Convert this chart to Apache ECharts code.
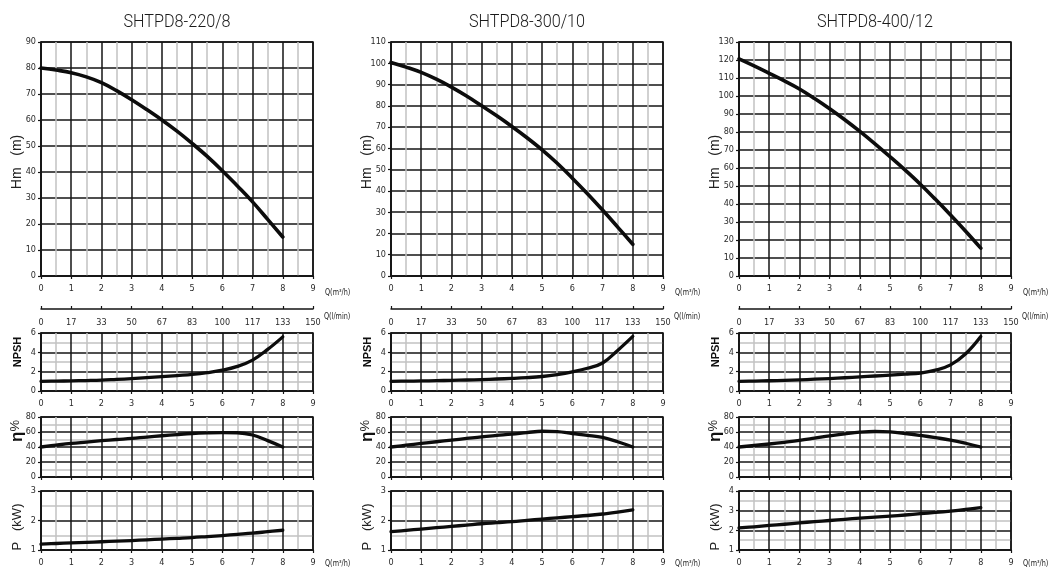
<!DOCTYPE html>
<html>
<head>
<meta charset="utf-8">
<script src="https://cdn.jsdelivr.net/npm/echarts@6/dist/echarts.min.js"></script>
<style>
html,body{margin:0;padding:0;background:#fff;}
#c{width:1060px;height:567px;}
</style>
</head>
<body>
<div id="c"></div>
<script>
// ---- data ----
const titles = ['SHTPD8-220/8', 'SHTPD8-300/10', 'SHTPD8-400/12'];
const flowQ = [0,0.5,1,1.5,2,2.5,3,3.5,4,4.5,5,5.5,6,6.5,7,7.5,8];
const lminLabels = ['0','17','33','50','67','83','100','117','133','150'];

const head1 = [80,79.2,78.2,76.6,74.4,71.3,67.8,64,60,55.7,51,46,40.5,34.6,28.5,21.8,15];
const head2 = [100.4,98.2,95.7,92.5,88.8,84.6,80,75.3,70.3,65,59.3,53,46,38.7,31,23,14.9];
const head3 = [120.6,116.7,112.6,108.4,103.9,98.6,92.9,86.8,80.3,73.4,66.2,58.8,51,42.6,33.9,24.9,15.5];

const npsh1 = [1.0,1.02,1.05,1.08,1.12,1.2,1.28,1.38,1.48,1.6,1.72,1.9,2.15,2.55,3.2,4.3,5.6];
const npsh2 = [1.0,1.02,1.04,1.07,1.1,1.14,1.18,1.24,1.3,1.38,1.5,1.7,1.98,2.35,2.9,4.2,5.65];
const npsh3 = [1.0,1.03,1.06,1.1,1.15,1.22,1.29,1.37,1.46,1.55,1.64,1.74,1.86,2.15,2.7,3.85,5.64];

const eff1 = [40,42.5,44.8,46.6,48.4,50,51.4,53.3,55,56.6,58,58.8,59.2,59,56,48.5,40];
const eff2 = [40,42.4,44.8,47,49.2,51.4,53.6,55.4,57.1,59.2,61,60.6,58,55.6,52.7,47,40];
const eff3 = [40,42,44,46.3,48.8,51.8,54.9,57.5,59.7,60.7,60.1,58,55.4,52.5,49.3,45,40];

const power1 = [1.2,1.22,1.24,1.26,1.28,1.3,1.32,1.345,1.37,1.395,1.42,1.455,1.49,1.53,1.57,1.62,1.67];
const power2 = [1.62,1.665,1.71,1.755,1.8,1.845,1.89,1.925,1.96,2.005,2.05,2.09,2.13,2.17,2.22,2.28,2.36];
const power3 = [2.12,2.18,2.25,2.31,2.38,2.44,2.5,2.56,2.62,2.67,2.72,2.78,2.85,2.91,2.98,3.06,3.15];

const headMax = [90, 110, 130];
const powerMax = [3, 3, 4];
const heads = [head1, head2, head3];
const npshs = [npsh1, npsh2, npsh3];
const effs = [eff1, eff2, eff3];
const powers = [power1, power2, power3];

// ---- layout / style ----
const FONT = "'Liberation Sans Narrow','DejaVu Sans Condensed','Roboto',sans-serif";
const lefts = [41, 391, 739];
const W = 272;
const panels = {
  H: {top: 42, height: 234},
  L: {top: 308, height: 1},
  N: {top: 333, height: 58},
  E: {top: 417, height: 60},
  P: {top: 491, height: 59}
};
const BLACK = '#151515';
const GREY = '#c2c2c2';

function pairs(ys) { return flowQ.map((q, i) => [q, ys[i]]); }

const grids = [], xAxes = [], yAxes = [], series = [], graphics = [];

function addPanel(col, key, yCfg, xLabels, data) {
  const p = panels[key];
  const gi = grids.length;
  const isL = key === 'L';
  grids.push({
    left: lefts[col], width: W, top: p.top, height: p.height,
    show: !isL, borderColor: BLACK, borderWidth: 1.5, backgroundColor: '#fff'
  });
  xAxes.push({
    gridIndex: gi, type: 'value', min: 0, max: 9, interval: 1,
    axisLine: {show: true, onZero: false, lineStyle: {color: BLACK, width: 1.5}},
    axisTick: {show: true, inside: isL, length: 3, lineStyle: {color: BLACK, width: 1.2}},
    axisLabel: {
      show: xLabels, fontSize: 9, color: '#2a2a2a', fontFamily: FONT,
      margin: isL ? 9 : 8,
      formatter: isL ? (v => lminLabels[Math.round(v)]) : (v => String(v))
    },
    splitLine: {show: !isL, lineStyle: {color: BLACK, width: 1.5}},
    minorTick: {show: false, splitNumber: 2},
    minorSplitLine: {show: !isL, lineStyle: {color: GREY, width: 1.5}}
  });
  if (isL) {
    yAxes.push({gridIndex: gi, type: 'value', show: false, min: 0, max: 1});
    return;
  }
  yAxes.push(Object.assign({
    gridIndex: gi, type: 'value',
    axisLine: {show: true, lineStyle: {color: BLACK, width: 1.5}},
    axisTick: {show: true, length: 3, lineStyle: {color: BLACK, width: 1.2}},
    axisLabel: {fontSize: 9, color: '#2a2a2a', fontFamily: FONT, margin: 5},
    splitLine: {show: true, lineStyle: {color: BLACK, width: 1.5}},
    minorTick: {show: false, splitNumber: 2},
    minorSplitLine: {show: !!yCfg.minor, lineStyle: {color: GREY, width: 1.5}}
  }, {min: yCfg.min, max: yCfg.max, interval: yCfg.interval}));
  series.push({
    type: 'line', xAxisIndex: gi, yAxisIndex: gi, data: pairs(data),
    smooth: 0.4, showSymbol: false, silent: true,
    lineStyle: {color: '#0c0c0c', width: key === 'H' ? 3.6 : 3.3, cap: 'round', join: 'round'}, z: 5
  });
}

function txt(x, y, text, size, opts) {
  graphics.push(Object.assign({
    type: 'text', x: x, y: y, silent: true,
    style: Object.assign({
      text: text, fontSize: size, fontFamily: FONT, fill: '#222',
      align: 'center', verticalAlign: 'middle'
    }, (opts && opts.style) || {})
  }, (opts && opts.el) || {}));
}

for (let c = 0; c < 3; c++) {
  addPanel(c, 'H', {min: 0, max: headMax[c], interval: 10}, true, heads[c]);
  addPanel(c, 'L', null, true, null);
  addPanel(c, 'N', {min: 0, max: 6, interval: 2, minor: true}, true, npshs[c]);
  addPanel(c, 'E', {min: 0, max: 80, interval: 20, minor: true}, false, effs[c]);
  addPanel(c, 'P', {min: 1, max: powerMax[c], interval: 1, minor: true}, true, powers[c]);

  const L = lefts[c];
  // title
  txt(L + W / 2, 22, titles[c], 18, {el: {scaleX: 0.9}, style: {fontFamily: "'Liberation Sans Narrow','Roboto',sans-serif", fontWeight: 300, fill: '#1a1a1a'}});
  // axis names
  txt(L - 24, 162, 'Hm   (m)', 14, {el: {rotation: Math.PI / 2}, style: {fontFamily: "'Liberation Sans','Arial',sans-serif", fill: '#222'}});
  txt(L - 23, 352, 'NPSH', 11, {el: {rotation: Math.PI / 2}, style: {fontFamily: "'Liberation Sans','Arial',sans-serif", fontWeight: 'bold', fill: '#111'}});
  graphics.push({
    type: 'text', x: L - 24, y: 431, rotation: Math.PI / 2, silent: true,
    style: {
      text: '{a|η}{b|%}', align: 'center', verticalAlign: 'middle',
      rich: {
        a: {fontSize: 17, fontWeight: 'bold', fontFamily: "'Liberation Sans',sans-serif", fill: '#111'},
        b: {fontSize: 13, fontFamily: "'Liberation Sans',sans-serif", fill: '#222', verticalAlign: 'top'}
      }
    }
  });
  txt(L - 24, 527, 'P   (kW)', 13, {el: {rotation: Math.PI / 2}, style: {fontFamily: "'Liberation Sans','Arial',sans-serif", fill: '#222'}});
  // Q labels
  txt(L + W + 12, 293, 'Q(m³/h)', 8, {el: {scaleX: 0.9}, style: {align: 'left'}});
  txt(L + W + 11, 317, 'Q(l/min)', 8, {el: {scaleX: 0.9}, style: {align: 'left'}});
  txt(L + W + 12, 564, 'Q(m³/h)', 8, {el: {scaleX: 0.9}, style: {align: 'left'}});
}

const chart = echarts.init(document.getElementById('c'), null, {renderer: 'canvas'});
chart.setOption({
  animation: false,
  backgroundColor: '#fff',
  grid: grids,
  xAxis: xAxes,
  yAxis: yAxes,
  series: series,
  graphic: graphics
});
</script>
</body>
</html>
